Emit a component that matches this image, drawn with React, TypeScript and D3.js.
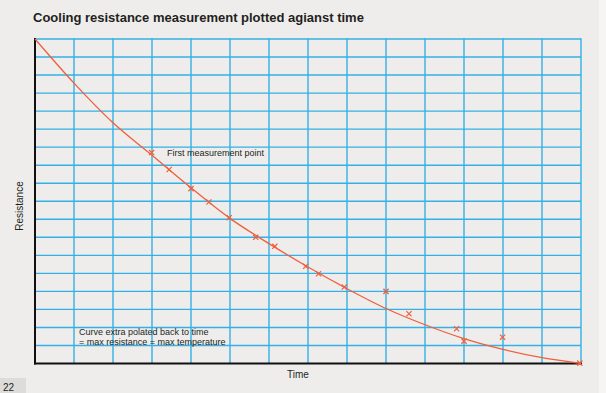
import { useRef, useEffect } from 'react';
import * as d3 from 'd3';

const WIDTH = 606;
const HEIGHT = 393;
const MARGIN = { top: 39, right: 25, bottom: 29.5, left: 35 };

const GRID_COLOR = '#33b1e6';
const CURVE_COLOR = '#ef5f3c';
const TEXT_COLOR = '#231f20';
const FONT = 'Liberation Sans, Arial, Helvetica, sans-serif';

// time axis spans 14 grid columns, resistance axis 18 grid rows
const X_DOMAIN: [number, number] = [0, 14];
const Y_DOMAIN: [number, number] = [0, 18];

// fitted cooling curve
const curveTime = [0, 1, 2, 3, 4, 5, 6, 7, 8, 9, 10, 11, 12, 13, 14];
const curveResistance = [18, 15.55, 13.35, 11.55, 9.75, 8.05, 6.65, 5.35, 4.15, 3.05, 2.15, 1.38, 0.78, 0.32, 0];

// measured points
const pointTime = [2.99, 3.44, 4.0, 4.46, 4.98, 5.66, 6.15, 6.94, 7.27, 7.93, 9.0, 9.59, 10.81, 11.0, 11.99, 13.97];
const pointResistance = [11.7, 10.76, 9.7, 8.96, 8.09, 7.0, 6.5, 5.39, 4.98, 4.24, 4.0, 2.76, 1.93, 1.24, 1.46, 0.02];

export default function App() {
  const svgRef = useRef<SVGSVGElement>(null);

  useEffect(() => {
    document.body.style.margin = '0';
    const svg = svgRef.current;
    if (!svg) return;

    const root = d3.select(svg);
    root.selectAll('*').remove();

    const x0 = MARGIN.left;
    const x1 = WIDTH - MARGIN.right;
    const y0 = HEIGHT - MARGIN.bottom;
    const y1 = MARGIN.top;

    const xScale = d3.scaleLinear().domain(X_DOMAIN).range([x0, x1]);
    const yScale = d3.scaleLinear().domain(Y_DOMAIN).range([y0, y1]);

    // Background
    root.append('rect')
      .attr('width', WIDTH)
      .attr('height', HEIGHT)
      .attr('fill', '#efedec');

    root.append('rect')
      .attr('x', WIDTH - 7)
      .attr('width', 7)
      .attr('height', HEIGHT)
      .attr('fill', '#f6f5f4');

    // Page number box
    root.append('rect')
      .attr('x', 0)
      .attr('y', 378)
      .attr('width', 26)
      .attr('height', 15)
      .attr('fill', '#dedcda');
    root.append('text')
      .attr('x', 3)
      .attr('y', 391)
      .attr('fill', TEXT_COLOR)
      .attr('font-family', FONT)
      .attr('font-size', '10px')
      .text('22');

    // Title
    root.append('text')
      .attr('x', 33)
      .attr('y', 22)
      .attr('fill', TEXT_COLOR)
      .attr('font-family', FONT)
      .attr('font-weight', 'bold')
      .attr('font-size', '13px')
      .text('Cooling resistance measurement plotted agianst time');

    // Grid
    const xTicks = d3.range(X_DOMAIN[0] + 1, X_DOMAIN[1] + 1);
    const yTicks = d3.range(Y_DOMAIN[0] + 1, Y_DOMAIN[1] + 1);

    root.append('g')
      .selectAll('line')
      .data(yTicks)
      .join('line')
      .attr('x1', x0)
      .attr('x2', x1)
      .attr('y1', (d) => yScale(d))
      .attr('y2', (d) => yScale(d))
      .attr('stroke', GRID_COLOR)
      .attr('stroke-width', 1.4);

    root.append('g')
      .selectAll('line')
      .data(xTicks)
      .join('line')
      .attr('x1', (d) => xScale(d))
      .attr('x2', (d) => xScale(d))
      .attr('y1', y1 - 0.7)
      .attr('y2', y0)
      .attr('stroke', GRID_COLOR)
      .attr('stroke-width', 1.4);

    // Axes
    root.append('line')
      .attr('x1', x0)
      .attr('x2', x0)
      .attr('y1', y1 - 1)
      .attr('y2', y0 + 1)
      .attr('stroke', '#111')
      .attr('stroke-width', 2);
    root.append('line')
      .attr('x1', x0 - 1)
      .attr('x2', x1 + 1)
      .attr('y1', y0)
      .attr('y2', y0)
      .attr('stroke', '#111')
      .attr('stroke-width', 2);

    // Curve
    const curveData = curveTime.map((t, i) => [t, curveResistance[i]] as [number, number]);
    const line = d3.line<[number, number]>()
      .x((d) => xScale(d[0]))
      .y((d) => yScale(d[1]))
      .curve(d3.curveMonotoneX);

    root.append('path')
      .datum(curveData)
      .attr('d', line)
      .attr('fill', 'none')
      .attr('stroke', CURVE_COLOR)
      .attr('stroke-width', 1.3);

    // Measurement crosses
    const s = 2.6;
    const pts = pointTime.map((t, i) => [t, pointResistance[i]] as [number, number]);
    const marks = root.append('g')
      .attr('stroke', CURVE_COLOR)
      .attr('stroke-width', 1.2);
    pts.forEach(([t, r]) => {
      const cx = xScale(t);
      const cy = yScale(r);
      marks.append('path')
        .attr('d', `M${cx - s},${cy - s}L${cx + s},${cy + s}M${cx - s},${cy + s}L${cx + s},${cy - s}`);
    });

    // Annotations
    root.append('text')
      .attr('x', 167)
      .attr('y', 155.5)
      .attr('fill', TEXT_COLOR)
      .attr('font-family', FONT)
      .attr('font-size', '9px')
      .text('First measurement point');

    const note = root.append('text')
      .attr('fill', TEXT_COLOR)
      .attr('font-family', FONT)
      .attr('font-size', '9px');
    note.append('tspan').attr('x', 79).attr('y', 335).text('Curve extra polated back to time');
    note.append('tspan').attr('x', 79).attr('y', 345).text('= max resistance = max temperature');

    // Axis labels
    root.append('text')
      .attr('x', 298)
      .attr('y', 378)
      .attr('text-anchor', 'middle')
      .attr('fill', TEXT_COLOR)
      .attr('font-family', FONT)
      .attr('font-size', '10px')
      .text('Time');

    root.append('text')
      .attr('transform', `translate(23,206) rotate(-90)`)
      .attr('text-anchor', 'middle')
      .attr('fill', TEXT_COLOR)
      .attr('font-family', FONT)
      .attr('font-size', '10px')
      .text('Resistance');
  }, []);

  return (
    <svg
      ref={svgRef}
      width={WIDTH}
      height={HEIGHT}
      style={{ display: 'block' }}
    />
  );
}
